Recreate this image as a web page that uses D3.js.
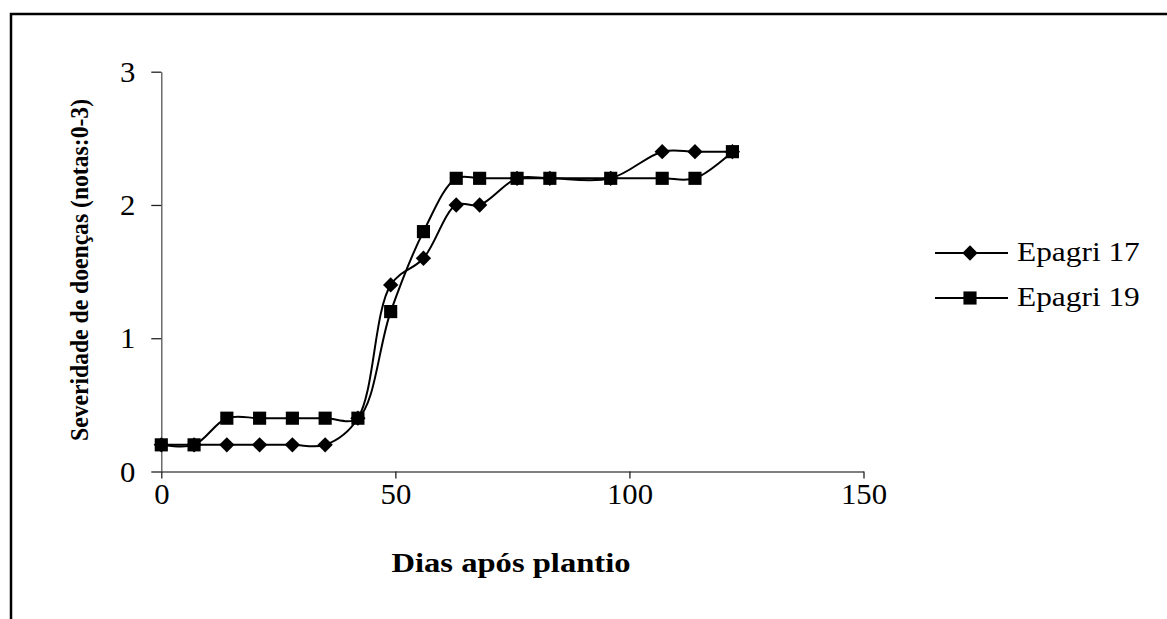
<!DOCTYPE html>
<head>
  <meta charset="utf-8">
  <script src="https://d3js.org/d3.v7.min.js"></script>
  <style>
    body { margin: 0; background: #fff; }
    svg text { font-family: "Liberation Serif", "Times New Roman", serif; fill: #000; }
  </style>
</head>
<body>
  <svg width="1167" height="619" id="chart"></svg>
  <script>
    // dias após plantio
    const days = [0, 7, 14, 21, 28, 35, 42, 49, 56, 63, 68, 76, 83, 96, 107, 114, 122];
    const epagri17 = [0.2, 0.2, 0.2, 0.2, 0.2, 0.2, 0.4, 1.4, 1.6, 2.0, 2.0, 2.2, 2.2, 2.2, 2.4, 2.4, 2.4];
    const epagri19 = [0.2, 0.2, 0.4, 0.4, 0.4, 0.4, 0.4, 1.2, 1.8, 2.2, 2.2, 2.2, 2.2, 2.2, 2.2, 2.2, 2.4];
    const xTicks = [0, 50, 100, 150];
    const yTicks = [0, 1, 2, 3];
    const seriesNames = ["Epagri 17", "Epagri 19"];

    const svg = d3.select("#chart");

    // the original picture is a bit stretched sideways, so text gets widened too
    const widen = k => sel => sel.each(function () {
      const w = this.getComputedTextLength();
      d3.select(this).attr("textLength", w * k).attr("lengthAdjust", "spacingAndGlyphs");
    });

    // outer frame (cut by the picture at right and bottom)
    svg.append("rect")
      .attr("x", 11).attr("y", 14)
      .attr("width", 1200).attr("height", 700)
      .attr("fill", "none").attr("stroke", "#000").attr("stroke-width", 2.5);

    const x = d3.scaleLinear().domain([0, 150]).range([161.3, 863.5]);
    const y = d3.scaleLinear().domain([0, 3]).range([471.5, 71.7]);

    const xAxis = svg.append("g")
      .attr("transform", `translate(0,${y(0)})`)
      .call(d3.axisBottom(x).tickValues(xTicks).tickFormat(d3.format("d"))
        .tickSize(7).tickPadding(5).tickSizeOuter(0));
    const yAxis = svg.append("g")
      .attr("transform", `translate(${x(0)},0)`)
      .call(d3.axisLeft(y).tickValues(yTicks).tickFormat(d3.format("d"))
        .tickSize(10).tickPadding(16).tickSizeOuter(0));

    [xAxis, yAxis].forEach(a => {
      a.attr("font-family", null).attr("font-size", null);
      a.select(".domain").attr("stroke", "#555").attr("stroke-width", 1.3);
      a.selectAll(".tick line").attr("stroke", "#222").attr("stroke-width", 1.3);
      a.selectAll(".tick text")
        .style("font-size", "29px").attr("fill", "#000")
        .call(widen(1.06));
    });
    yAxis.selectAll(".tick text").attr("dy", "0.33em");

    // axis titles
    svg.append("text")
      .attr("x", 511).attr("y", 572)
      .attr("text-anchor", "middle")
      .style("font-size", "27px").style("font-weight", "bold")
      .attr("textLength", 239).attr("lengthAdjust", "spacingAndGlyphs")
      .text("Dias após plantio");

    svg.append("text")
      .attr("transform", "translate(88,270) rotate(-90)")
      .attr("text-anchor", "middle")
      .style("font-size", "25px").style("font-weight", "bold")
      .attr("textLength", 342).attr("lengthAdjust", "spacingAndGlyphs")
      .text("Severidade de doenças (notas:0-3)");

    const line = d3.line()
      .x(d => x(d[0])).y(d => y(d[1]))
      .curve(d3.curveCatmullRom.alpha(0.5));

    const diamond = d3.symbol().type(d3.symbolDiamond2).size(150);
    const square = d3.symbol().type(d3.symbolSquare2).size(220);

    const series = [
      { name: seriesNames[0], values: epagri17, sym: diamond },
      { name: seriesNames[1], values: epagri19, sym: square }
    ];

    series.forEach(s => {
      const pts = days.map((d, i) => [d, s.values[i]]);
      svg.append("path")
        .datum(pts)
        .attr("d", line)
        .attr("fill", "none").attr("stroke", "#000").attr("stroke-width", 2);
    });
    series.forEach(s => {
      const pts = days.map((d, i) => [d, s.values[i]]);
      svg.append("g").selectAll("path")
        .data(pts).enter().append("path")
        .attr("d", s.sym)
        .attr("transform", d => `translate(${x(d[0])},${y(d[1])})`)
        .attr("fill", "#000");
    });

    // legend
    const legend = svg.append("g").attr("transform", "translate(935,253)");
    series.forEach((s, i) => {
      const g = legend.append("g").attr("transform", `translate(0,${i * 45})`);
      g.append("line").attr("x1", 0).attr("x2", 73).attr("y1", 0).attr("y2", 0)
        .attr("stroke", "#000").attr("stroke-width", 2);
      g.append("path").attr("d", s.sym).attr("transform", "translate(35,0)").attr("fill", "#000");
      g.append("text").attr("x", 82).attr("y", 8)
        .style("font-size", "28px").text(s.name)
        .call(widen(1.12));
    });
  </script>
</body>
